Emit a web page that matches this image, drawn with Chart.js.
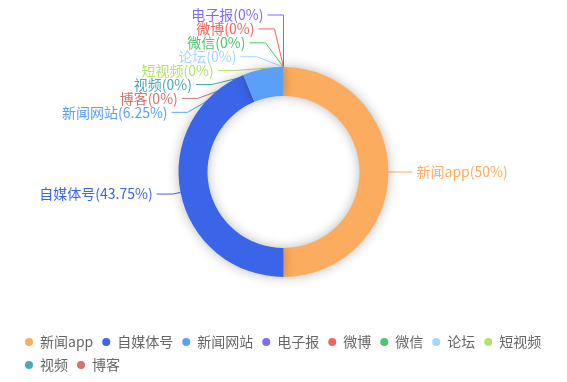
<!DOCTYPE html>
<html lang="zh">
<head>
<meta charset="utf-8">
<title>来源分布</title>
<script src="https://cdn.jsdelivr.net/npm/chart.js@4/dist/chart.umd.min.js"></script>
<style>
  html,body{margin:0;padding:0;background:#fff;}
  #wrap{width:567px;height:382px;position:relative;}
</style>
</head>
<body>
<div id="wrap"><canvas id="pie"></canvas></div>
<script>
// Source categories and their share (%)
const sources = ['新闻app','自媒体号','新闻网站','电子报','微博','微信','论坛','短视频','视频','博客'];
const shares  = [50, 43.75, 6.25, 0, 0, 0, 0, 0, 0, 0];
const colors  = ['#fcac5e','#3b65e8','#5aa0f8','#7d6cf5','#f6625c','#4dc66f','#a8d3ff','#b4e26e','#4ba9b4','#cf7570'];

const FONT = '"Noto Sans CJK SC", "Noto Sans", sans-serif';
const LEN1 = 8, LEN2 = 16, TEXT_GAP = 4, ROW = 13.9, MIN_Y = 15;

function labelText(i){
  const total = shares.reduce((a,b)=>a+b,0);
  const pct = total ? +(shares[i]/total*100).toFixed(2) : 0;
  return `${sources[i]}(${pct}%)`;
}

// outside labels with leader lines, spread out when they collide
function layoutLabels(chart){
  const meta = chart.getDatasetMeta(0);
  const items = meta.data.map((arc,i)=>{
    const {x, y, startAngle, endAngle, outerRadius} = arc;
    const mid = (startAngle+endAngle)/2;
    const c = Math.cos(mid), s = Math.sin(mid);
    return {i, cx:x, cy:y, r:outerRadius, c, s, dir: c > 1e-6 ? 1 : -1,
      p0:[x + outerRadius*c, y + outerRadius*s],
      y0: y + (outerRadius+LEN1)*s};
  });
  [-1,1].forEach(dir=>{
    const side = items.filter(it=>it.dir===dir).sort((a,b)=>a.y0-b.y0 || a.i-b.i);
    if(!side.length) return;
    const place = g=>{
      const m = g.reduce((a,it)=>a+it.y0,0)/g.length;
      g.forEach((it,k)=>{ it.y = m + (k-(g.length-1)/2)*ROW; });
    };
    let groups = side.map(it=>[it]);
    groups.forEach(place);
    let merged = true;
    while(merged){
      merged = false;
      for(let k=0;k<groups.length-1;k++){
        const a = groups[k], b = groups[k+1];
        if(a[a.length-1].y + ROW > b[0].y){ groups.splice(k,2,a.concat(b)); place(groups[k]); merged = true; break; }
      }
    }
    side.forEach((it,k)=>{ it.y = Math.max(it.y, k ? side[k-1].y + ROW : MIN_Y); });
    const rB = Math.max(...side.map(it=>Math.abs(it.y-it.cy)));
    side.forEach(it=>{
      const R1 = it.r + LEN1;
      let bx;
      if(Math.abs(it.y - it.y0) < 0.5){ bx = it.cx + R1*it.c; }
      else{
        const dy = Math.abs(it.y - it.cy);
        const dx = Math.max(dy < R1 ? Math.sqrt(R1*R1-dy*dy) : 0, 0.65*(rB-dy));
        bx = it.cx + dir*dx;
      }
      it.p1 = [bx, it.y];
      it.p2 = [bx + dir*LEN2, it.y];
    });
  });
  return items;
}

const outsideLabels = {
  id:'outsideLabels',
  beforeDatasetsDraw(chart){
    const ctx = chart.ctx;
    chart.$labels = layoutLabels(chart);
    ctx.save();
    ctx.lineWidth = 1;
    chart.$labels.forEach(it=>{
      ctx.strokeStyle = colors[it.i];
      ctx.beginPath();
      ctx.moveTo(...it.p0); ctx.lineTo(...it.p1); ctx.lineTo(...it.p2);
      ctx.stroke();
    });
    ctx.restore();
  },
  afterDatasetsDraw(chart){
    const ctx = chart.ctx;
    ctx.save();
    ctx.font = '14px ' + FONT;
    ctx.textBaseline = 'middle';
    chart.$labels.forEach(it=>{
      ctx.fillStyle = colors[it.i];
      ctx.textAlign = it.dir > 0 ? 'left' : 'right';
      ctx.fillText(labelText(it.i), it.p2[0] + it.dir*TEXT_GAP, it.p2[1]);
    });
    ctx.restore();
  }
};

// soft shadow round the ring
const ringShadow = {
  id:'ringShadow',
  beforeDatasetDraw(chart){
    const ctx = chart.ctx;
    ctx.save();
    ctx.shadowColor = 'rgba(0,0,0,0.28)';
    ctx.shadowBlur = 12;
  },
  afterDatasetDraw(chart){ chart.ctx.restore(); }
};

Chart.defaults.font.family = FONT;

new Chart(document.getElementById('pie'), {
  type:'doughnut',
  data:{
    labels: sources,
    datasets:[{ data: shares, backgroundColor: colors, borderWidth:0, hoverOffset:0 }]
  },
  options:{
    responsive:true,
    maintainAspectRatio:false,
    animation:false,
    events:[],
    radius:105,
    cutout:'72.4%',
    layout:{ padding:{top:18, left:16, right:16, bottom:0} },
    plugins:{
      tooltip:{enabled:false},
      legend:{
        position:'bottom',
        align:'start',
        labels:{
          usePointStyle:true, pointStyle:'circle', pointStyleWidth:8, boxHeight:5.66,
          padding:9, color:'#666', font:{size:14, family:FONT}
        }
      }
    }
  },
  plugins:[outsideLabels, ringShadow]
});
</script>
</body>
</html>
